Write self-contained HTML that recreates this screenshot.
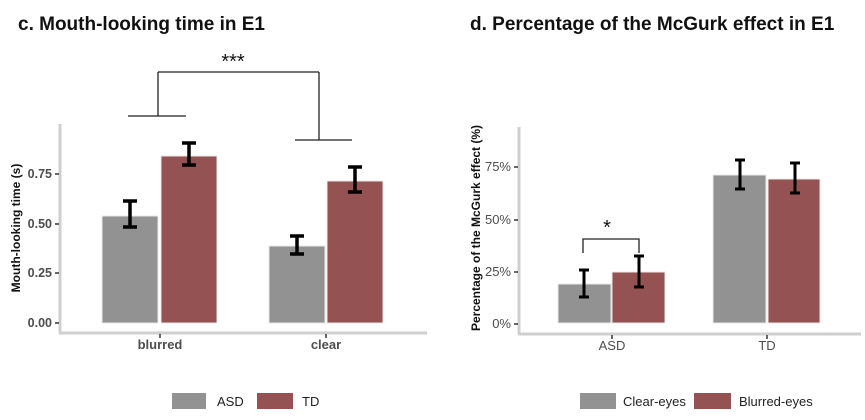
<!DOCTYPE html>
<html><head><meta charset="utf-8"><style>
html,body{margin:0;padding:0;background:#fff;}
svg{display:block;font-family:"Liberation Sans",Arial,sans-serif;}
</style></head><body>
<svg width="865" height="420" viewBox="0 0 865 420" xmlns="http://www.w3.org/2000/svg">
<rect width="865" height="420" fill="#fff"/>
<text x="18" y="30" font-size="19" font-weight="bold" fill="#111">c. Mouth-looking time in E1</text>
<text x="470" y="30" font-size="19" font-weight="bold" fill="#111">d. Percentage of the McGurk effect in E1</text>

<g>
<line x1="60" y1="124" x2="60" y2="333" stroke="#cfcfcf" stroke-width="3"/>
<line x1="59" y1="333" x2="427" y2="333" stroke="#cfcfcf" stroke-width="3"/>
<g stroke="#333" stroke-width="1.5">
<line x1="55" y1="323" x2="59" y2="323"/><line x1="55" y1="273" x2="59" y2="273"/>
<line x1="55" y1="224" x2="59" y2="224"/><line x1="55" y1="174" x2="59" y2="174"/>
<line x1="160" y1="334" x2="160" y2="338"/><line x1="326" y1="334" x2="326" y2="338"/>
</g>
<g font-size="12.5" font-weight="bold" fill="#4d4d4d" text-anchor="end">
<text x="52" y="327">0.00</text><text x="52" y="277">0.25</text>
<text x="52" y="228">0.50</text><text x="52" y="178">0.75</text>
</g>
<g font-size="13" font-weight="bold" fill="#4d4d4d" text-anchor="middle">
<text x="160" y="349">blurred</text><text x="326" y="349">clear</text>
</g>
<text transform="translate(20,228) rotate(-90)" font-size="12" font-weight="bold" fill="#111" text-anchor="middle">Mouth-looking time (s)</text>
<g stroke="#e8e8e8" stroke-width="1">
<rect x="102" y="216" width="56" height="107" fill="#929292"/>
<rect x="161" y="156" width="56" height="167" fill="#955252"/>
<rect x="269" y="246" width="56" height="77" fill="#929292"/>
<rect x="327" y="181" width="56" height="142" fill="#955252"/>
</g>
<g stroke="#000" stroke-width="3.5">
<line x1="130" y1="201" x2="130" y2="227"/><line x1="123" y1="201" x2="137" y2="201"/><line x1="123" y1="227" x2="137" y2="227"/>
<line x1="189" y1="143" x2="189" y2="165"/><line x1="182" y1="143" x2="196" y2="143"/><line x1="182" y1="165" x2="196" y2="165"/>
<line x1="297" y1="236" x2="297" y2="254"/><line x1="290" y1="236" x2="304" y2="236"/><line x1="290" y1="254" x2="304" y2="254"/>
<line x1="355" y1="167" x2="355" y2="192"/><line x1="348" y1="167" x2="362" y2="167"/><line x1="348" y1="192" x2="362" y2="192"/>
</g>
<g stroke="#222" stroke-width="1.3" fill="none">
<line x1="128" y1="116" x2="186" y2="116"/><line x1="158" y1="72" x2="158" y2="116"/>
<line x1="295" y1="140" x2="352" y2="140"/><line x1="319" y1="72" x2="319" y2="140"/>
<line x1="158" y1="72" x2="319" y2="72"/>
</g>
<text x="233" y="68" font-size="20" fill="#111" text-anchor="middle">***</text>
</g>

<g>
<line x1="519" y1="127" x2="519" y2="334" stroke="#cfcfcf" stroke-width="3"/>
<line x1="518" y1="334" x2="861" y2="334" stroke="#cfcfcf" stroke-width="3"/>
<g stroke="#333" stroke-width="1.5">
<line x1="514" y1="324" x2="518" y2="324"/><line x1="514" y1="272" x2="518" y2="272"/>
<line x1="514" y1="220" x2="518" y2="220"/><line x1="514" y1="167" x2="518" y2="167"/>
<line x1="612" y1="335" x2="612" y2="339"/><line x1="767" y1="335" x2="767" y2="339"/>
</g>
<g font-size="13" fill="#4d4d4d" text-anchor="end">
<text x="511" y="328">0%</text><text x="511" y="276">25%</text>
<text x="511" y="224">50%</text><text x="511" y="171">75%</text>
</g>
<g font-size="13" fill="#4d4d4d" text-anchor="middle">
<text x="612" y="350">ASD</text><text x="767" y="350">TD</text>
</g>
<text transform="translate(480,228) rotate(-90)" font-size="12" font-weight="bold" fill="#111" text-anchor="middle">Percentage of the McGurk effect (%)</text>
<g stroke="#e8e8e8" stroke-width="1">
<rect x="558" y="284" width="53" height="39" fill="#929292"/>
<rect x="612" y="272" width="53" height="51" fill="#955252"/>
<rect x="713" y="175" width="53" height="148" fill="#929292"/>
<rect x="768" y="179" width="52" height="144" fill="#955252"/>
</g>
<g stroke="#000" stroke-width="3">
<line x1="584" y1="270" x2="584" y2="297"/><line x1="579" y1="270" x2="589" y2="270"/><line x1="579" y1="297" x2="589" y2="297"/>
<line x1="639" y1="256" x2="639" y2="287"/><line x1="634" y1="256" x2="644" y2="256"/><line x1="634" y1="287" x2="644" y2="287"/>
<line x1="740" y1="160" x2="740" y2="189"/><line x1="735" y1="160" x2="745" y2="160"/><line x1="735" y1="189" x2="745" y2="189"/>
<line x1="795" y1="163" x2="795" y2="193"/><line x1="790" y1="163" x2="800" y2="163"/><line x1="790" y1="193" x2="800" y2="193"/>
</g>
<path d="M583 253 V239 H639 V253" stroke="#222" stroke-width="1.3" fill="none"/>
<text x="607" y="234" font-size="20" fill="#111" text-anchor="middle">*</text>
</g>

<rect x="172" y="393" width="34" height="16" fill="#929292"/>
<text x="217" y="406" font-size="13" fill="#222">ASD</text>
<rect x="257" y="393" width="36" height="16" fill="#955252"/>
<text x="302" y="406" font-size="13" fill="#222">TD</text>
<rect x="580" y="393" width="36" height="16" fill="#929292"/>
<text x="623" y="406" font-size="13" fill="#222">Clear-eyes</text>
<rect x="694" y="393" width="37" height="16" fill="#955252"/>
<text x="739" y="406" font-size="13" fill="#222">Blurred-eyes</text>
</svg>
</body></html>
